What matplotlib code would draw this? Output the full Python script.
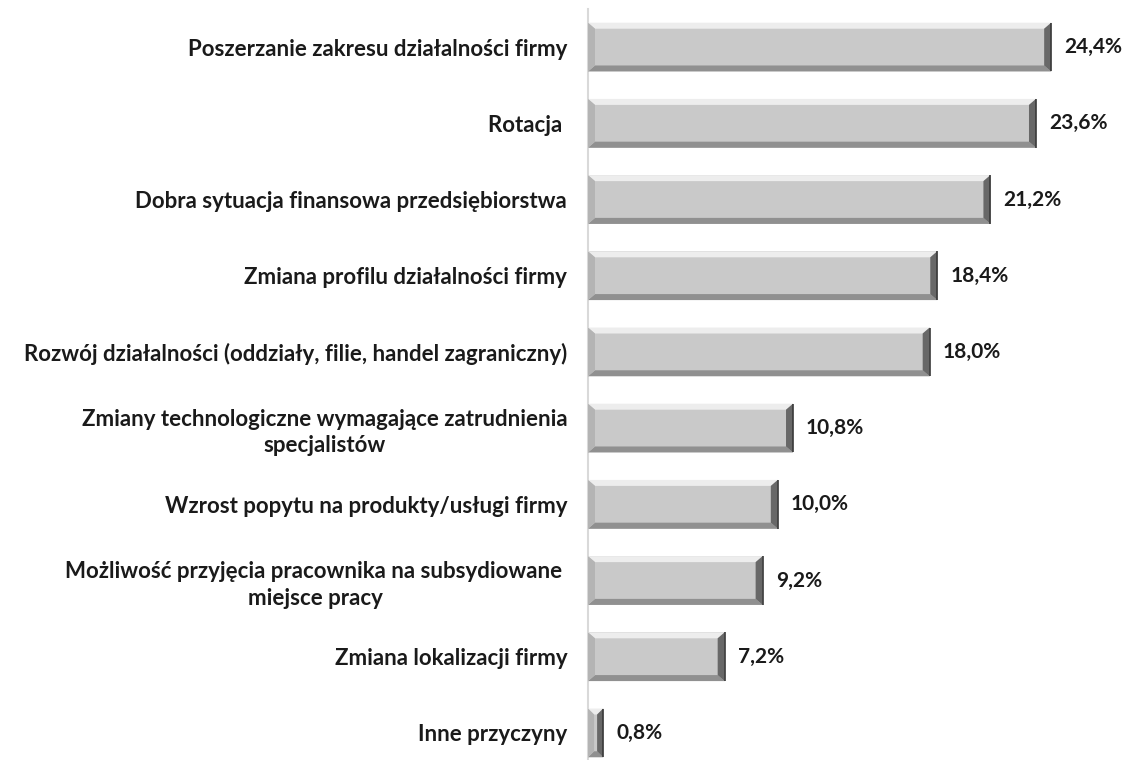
import matplotlib.pyplot as plt
from matplotlib.patches import Polygon

plt.rcParams['font.family'] = ['Lato', 'DejaVu Sans']

categories = [
    'Poszerzanie zakresu działalności firmy',
    'Rotacja ',
    'Dobra sytuacja finansowa przedsiębiorstwa',
    'Zmiana profilu działalności firmy',
    'Rozwój działalności (oddziały, filie, handel zagraniczny)',
    'Zmiany technologiczne wymagające zatrudnienia\nspecjalistów',
    'Wzrost popytu na produkty/usługi firmy',
    'Możliwość przyjęcia pracownika na subsydiowane \nmiejsce pracy',
    'Zmiana lokalizacji firmy',
    'Inne przyczyny',
]
values = [24.4, 23.6, 21.2, 18.4, 18.0, 10.8, 10.0, 9.2, 7.2, 0.8]

W, H = 1129, 760
fig = plt.figure(figsize=(W / 100, H / 100), dpi=100)
# axes runs a little past the bottom edge, as in the original
ax_left, ax_right = 588, 1129
ax_top, ax_bottom = 9, 771
ax = fig.add_axes([ax_left / W, (H - ax_bottom) / H,
                   (ax_right - ax_left) / W, (ax_bottom - ax_top) / H])

n = len(values)
ys = list(range(n))
bh = 0.64
xmax = 28.5
ax.set_xlim(0, xmax)
ax.set_ylim(n - 0.5, -0.5)

bars = ax.barh(ys, values, height=bh, color='#c9c9c9', edgecolor='none', zorder=2)

# bevel effect, sizes in pixels turned into data units
px_x = (ax_right - ax_left) / xmax
px_y = (ax_bottom - ax_top) / n
bx = 7 / px_x
by = 6 / px_y
for b in bars:
    x0, x1 = b.get_x(), b.get_x() + b.get_width()
    y0, y1 = b.get_y(), b.get_y() + b.get_height()  # y0 is the top (inverted axis)
    dx = min(bx, (x1 - x0) / 2.5)
    top = Polygon([(x0, y0), (x1, y0), (x1 - dx, y0 + by), (x0 + dx, y0 + by)],
                  closed=True, fc='#ededed', ec='none', zorder=3)
    bot = Polygon([(x0, y1), (x1, y1), (x1 - dx, y1 - by), (x0 + dx, y1 - by)],
                  closed=True, fc='#909090', ec='none', zorder=3)
    right = Polygon([(x1, y0), (x1, y1), (x1 - dx, y1 - by), (x1 - dx, y0 + by)],
                    closed=True, fc='#686868', ec='none', zorder=3)
    left = Polygon([(x0, y0), (x0, y1), (x0 + dx, y1 - by), (x0 + dx, y0 + by)],
                   closed=True, fc='#b4b4b4', ec='none', zorder=3)
    for p in (top, bot, right, left):
        ax.add_patch(p)
    ax.plot([x1, x1], [y0, y1], color='#3a3a3a', lw=1.2, zorder=4, solid_capstyle='butt')
    ax.text(x1 + 13 / px_x, b.get_y() + b.get_height() / 2,
            f'{b.get_width():.1f}%'.replace('.', ','),
            va='center', ha='left', fontsize=15, fontweight='bold', color='#1a1a1a')

ax.set_yticks(ys)
ax.set_yticklabels(categories, fontsize=16, fontweight='bold', color='#1a1a1a',
                   multialignment='center', linespacing=1.3)
ax.tick_params(axis='y', length=0, pad=15)
ax.set_xticks([])
for s in ('top', 'right', 'bottom'):
    ax.spines[s].set_visible(False)
ax.spines['left'].set_color('#d9d9d9')
ax.spines['left'].set_linewidth(1.5)

fig.savefig('out.png', dpi=100)
